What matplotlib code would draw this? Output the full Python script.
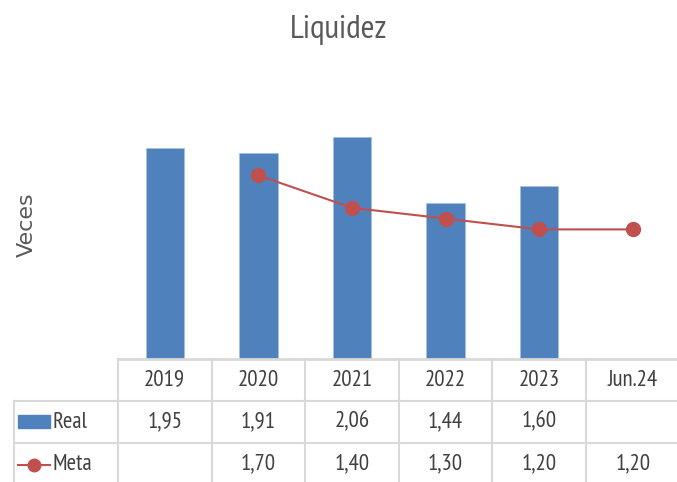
import matplotlib
matplotlib.use("Agg")
import matplotlib.pyplot as plt
from matplotlib.transforms import blended_transform_factory
from matplotlib.patches import Rectangle
from matplotlib.lines import Line2D

categories = ["2019", "2020", "2021", "2022", "2023", "Jun.24"]
real = [1.95, 1.91, 2.06, 1.44, 1.60, None]
meta = [None, 1.70, 1.40, 1.30, 1.20, 1.20]

BLUE = "#4F81BD"
RED = "#C0504D"
GRID = "#D9D9D9"
TXT = "#404040"
NARROW = ["PT Sans Narrow", "DejaVu Sans"]

W, H = 677, 482
fig = plt.figure(figsize=(W / 100, H / 100), dpi=100)


def fy(px):
    return (H - px) / H


def fx(px):
    return px / W


col_w = 93.6
left_px = 118
ax = fig.add_axes([fx(left_px), fy(359), fx(col_w * 6), fy(359 - 270) - fy(359)])
ax.set_xlim(-0.5, 5.5)
ax.set_ylim(0, 2.5)
for s in ax.spines.values():
    s.set_visible(False)
ax.set_xticks([])
ax.set_yticks([])

xs = list(range(len(categories)))
rx = [x for x, v in zip(xs, real) if v is not None]
rv = [v for v in real if v is not None]
ax.bar(rx, rv, width=0.41, color=BLUE, edgecolor="#A7BFDE", linewidth=0.6, zorder=2)
mx = [x for x, v in zip(xs, meta) if v is not None]
mv = [v for v in meta if v is not None]
ax.plot(mx, mv, color=RED, lw=1.5, marker="o", markersize=10, zorder=3)

fig.text(0.5, fy(30), "Liquidez", ha="center", va="center",
         fontsize=24, color="#595959", family=NARROW)
fig.text(fx(27), fy(225), "Veces", ha="center", va="center", rotation=90,
         fontsize=16, color="#595959", family="DejaVu Sans")

# data table
tr = blended_transform_factory(ax.transData, fig.transFigure)
edges = [i - 0.5 for i in range(len(categories) + 1)]
fig.add_artist(Line2D([fx(left_px), 1.02], [fy(359)] * 2, color=GRID, lw=2,
                      transform=fig.transFigure))
for y in (401, 443):
    fig.add_artist(Line2D([fx(14), 1.02], [fy(y)] * 2, color=GRID, lw=1.5,
                          transform=fig.transFigure))
for e in edges:
    fig.add_artist(Line2D([e, e], [fy(359), fy(490)], color=GRID, lw=1.5,
                          transform=tr))
fig.add_artist(Line2D([fx(14), fx(14)], [fy(401), fy(490)], color=GRID, lw=1.5,
                      transform=fig.transFigure))

FS = 16.5
for x, c in zip(xs, categories):
    fig.text(x, fy(380), c, transform=tr, ha="center", va="center",
             fontsize=FS, color=TXT, family=NARROW)
for x, v in zip(xs, real):
    if v is not None:
        fig.text(x, fy(422), f"{v:.2f}".replace(".", ","), transform=tr,
                 ha="center", va="center", fontsize=FS, color=TXT, family=NARROW)
for x, v in zip(xs, meta):
    if v is not None:
        fig.text(x, fy(464), f"{v:.2f}".replace(".", ","), transform=tr,
                 ha="center", va="center", fontsize=FS, color=TXT, family=NARROW)

# row legend keys
fig.add_artist(Rectangle((fx(18), fy(428)), fx(50) - fx(18), fy(415) - fy(428),
                         color=BLUE, transform=fig.transFigure))
fig.add_artist(Line2D([fx(18), fx(50)], [fy(465)] * 2, color=RED, lw=1.5,
                      transform=fig.transFigure))
fig.add_artist(Line2D([fx(34)], [fy(465)], color=RED, marker="o", markersize=9,
                      transform=fig.transFigure))
fig.text(fx(52), fy(422), "Real", ha="left", va="center", fontsize=FS,
         color=TXT, family=NARROW)
fig.text(fx(52), fy(464), "Meta", ha="left", va="center", fontsize=FS,
         color=TXT, family=NARROW)

fig.savefig("out.png", dpi=100)
